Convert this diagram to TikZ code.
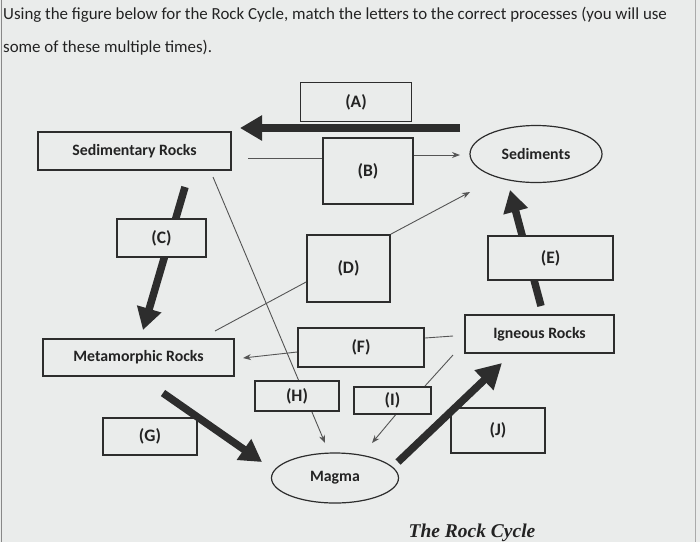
\documentclass[tikz,border=0pt]{standalone}
\usepackage{fontspec}
\setmainfont{Carlito}
\newfontfamily\captionfont{Liberation Serif}
\usetikzlibrary{arrows.meta,shapes.geometric}
\definecolor{bg}{RGB}{234,236,235}
\definecolor{ink}{RGB}{45,45,45}
\definecolor{thin}{RGB}{85,85,85}
\definecolor{txt}{RGB}{35,35,35}
\tikzset{
  box/.style={draw=ink, line width=1.8pt, fill=bg, inner sep=0pt,
    font=\bfseries\fontsize{15.8}{18}\selectfont, text=txt},
  letter/.style={box, font=\bfseries\fontsize{17.5}{20}\selectfont},
  oval/.style={ellipse, draw=ink, line width=1.2pt, fill=bg, inner sep=0pt,
    font=\bfseries\fontsize{15.8}{18}\selectfont, text=txt},
  thinline/.style={draw=thin, line width=0.9pt},
  thinarrow/.style={thinline, -{Stealth[length=8pt,width=6pt]}},
  fatarrow/.style={draw=ink, line width=7.5pt, -{Triangle[length=22pt,width=24pt]}},
  title/.style={anchor=base west, inner sep=0pt, text=txt, font=\fontsize{16.9}{20}\selectfont}
}
\begin{document}
\begin{tikzpicture}[x=1pt,y=-1pt]
\useasboundingbox (0,0) rectangle (700,542);
\fill[bg] (0,0) rectangle (700,542);
\draw[thin!70, line width=0.8pt] (1,0) -- (1,542);
\draw[thin!50, line width=0.6pt] (695,0) -- (695,542);

\node[title] (t1) at (3,19) {Using the figure below for the Rock Cycle, match the letters to the correct processes (you will use};
\node[title] (t2) at (3,52) {some of these multiple times).};

% coordinates for free connector ends
\coordinate (a1) at (460,128);
\coordinate (a2) at (240,128);
\coordinate (b0) at (248,158);
\coordinate (b1) at (460,155);
\coordinate (d1) at (470,192);
\coordinate (d2) at (215,331);
\coordinate (e0) at (541,306);
\coordinate (e1) at (510,190);
\coordinate (s0) at (213,177);
\coordinate (s1) at (325,443);
\coordinate (c0) at (185,187);
\coordinate (c1) at (143,330);
\coordinate (f1) at (453,336);
\coordinate (f2) at (243,358);
\coordinate (i0) at (453,355);
\coordinate (i2) at (372,443);
\coordinate (g0) at (163,393);
\coordinate (g1) at (262,462);
\coordinate (j0) at (398,462);
\coordinate (j1) at (502,363);

% lines / arrows hidden behind boxes
\draw[thinarrow] (s0) -- (s1);
\draw[fatarrow] (c0) -- (c1);
\draw[fatarrow] (e0) -- (e1);

% boxes
\node[letter, minimum width=111pt, minimum height=39pt] (A) at (356,102) {(A)};
\node[box, minimum width=193pt, minimum height=38pt] (Sed) at (134.5,151) {Sedimentary Rocks};
\node[letter, minimum width=90pt, minimum height=66pt] (B) at (368,171) {(B)};
\node[oval, minimum width=132pt, minimum height=57pt] (Sdm) at (536,154) {Sediments};
\node[letter, minimum width=83pt, minimum height=67pt] (D) at (348.5,268.5) {(D)};
\node[letter, minimum width=125pt, minimum height=44pt] (E) at (550.5,258) {(E)};
\node[box, minimum width=149pt, minimum height=38pt] (Ign) at (539.5,334) {Igneous Rocks};
\node[letter, minimum width=89pt, minimum height=38pt] (C) at (161.5,238) {(C)};
\node[box, minimum width=191pt, minimum height=37pt] (Met) at (138.5,357.5) {Metamorphic Rocks};
\node[letter, minimum width=126pt, minimum height=39pt] (F) at (361,347.5) {(F)};
\node[letter, minimum width=84pt, minimum height=30pt] (H) at (297,396) {(H)};
\node[letter, minimum width=77pt, minimum height=27pt] (I) at (392.5,400.5) {(I)};
\node[letter, minimum width=94pt, minimum height=37pt] (G) at (150,436.5) {(G)};
\node[letter, minimum width=94pt, minimum height=45pt] (J) at (498,430.5) {(J)};
\node[oval, minimum width=127pt, minimum height=50pt] (Mag) at (335,478) {Magma};

% connectors
\draw[fatarrow] (a1) -- (a2);
\draw[thinline] (b0) -- (b0 -| B.west);
\draw[thinarrow] (B.east |- b1) -- (b1);
\draw[thinarrow] (D.north east) -- (d1);
\draw[thinline] (D.west |- 0,282) -- (d2);
\draw[thinline] (F.east |- 0,338) -- (f1);
\draw[thinarrow] (F.west |- 0,352) -- (f2);
\draw[thinline] (i0) -- ([xshift=-7pt]I.north east);
\draw[thinarrow] ([xshift=3pt]I.south) -- (i2);
\draw[fatarrow] (g0) -- (g1);
\draw[fatarrow, -{Triangle[length=25pt,width=26pt]}] (j0) -- (j1);

\node[anchor=base, inner sep=0pt, text=txt, font=\captionfont\bfseries\itshape\fontsize{19.5}{22}\selectfont] (cap) at (472,537) {The Rock Cycle};
\end{tikzpicture}
\end{document}
